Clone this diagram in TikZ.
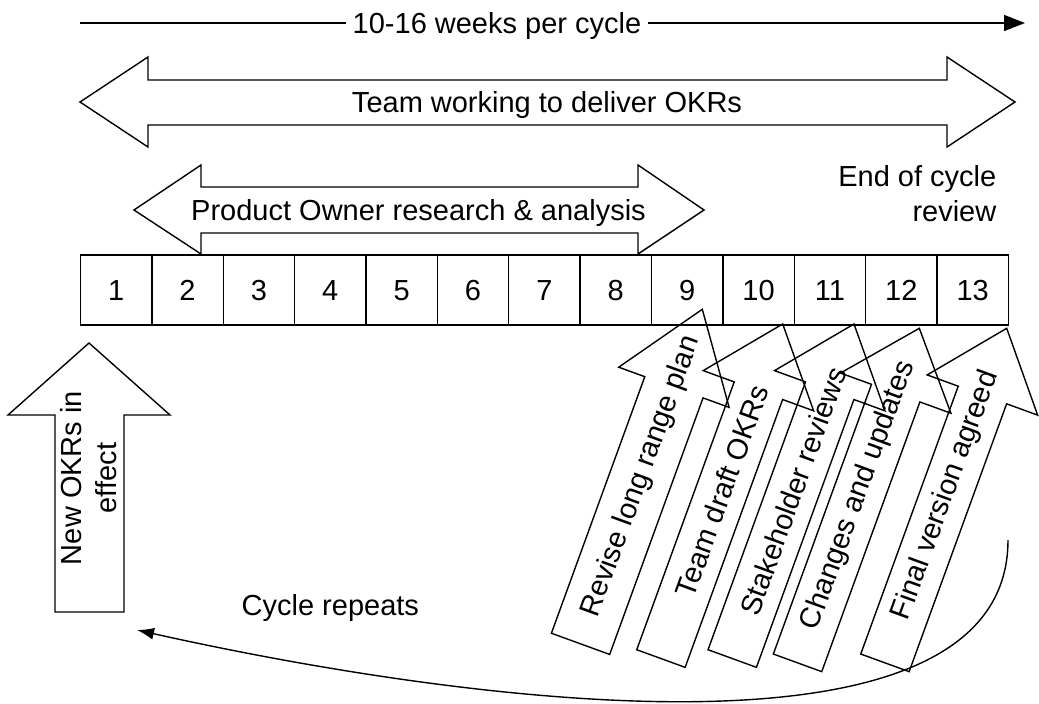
\documentclass[tikz,border=0pt]{standalone}
\usepackage{fontspec}
\setmainfont{Liberation Sans}
\usetikzlibrary{positioning,arrows.meta}

\begin{document}
\begin{tikzpicture}[x=1pt,y=-1pt,
   font=\fontsize{29}{34.8}\selectfont,
   line width=1.4pt,
   >={Latex[length=17pt,width=12pt]},
   wk/.style={draw,minimum width=71.37pt,minimum height=70pt,
              inner sep=0pt,outer sep=0pt,text height=20.8pt,text depth=0pt},
   blk/.style={draw,line join=miter},
   lbl/.style={inner sep=0pt,align=center},
]
\useasboundingbox (0,0) rectangle (1039,704);

% ----- week boxes
\foreach \i in {1,...,13}
  \node[wk] (w\i) at ({80.5+71.37*(\i-0.5)},290) {\i};

% ----- cycle length
\coordinate (t0) at (80,23);
\coordinate (t1) at (1025,23);
\draw[-{Triangle[length=21pt,width=16pt]}] (t0) -- (t1);
\node[fill=white,inner xsep=7pt,inner ysep=0pt,anchor=base] (span) at (497,33.4)
   {10-16 weeks per cycle};

% ----- team working (double arrow)
\draw[blk] (80,102) -- (148,57) -- (148,80) -- (947,80) -- (947,57) -- (1015,102)
   -- (947,147) -- (947,125) -- (148,125) -- (148,147) -- cycle;
\node[lbl,anchor=base] (team) at (547,112.4) {Team working to deliver OKRs};

% ----- product owner (double arrow)
\draw[blk] (134,210) -- (201,165) -- (201,187) -- (638,187) -- (638,165) -- (704,210)
   -- (638,254) -- (638,233) -- (201,233) -- (201,254) -- cycle;
\node[lbl,anchor=base] (po) at (418.5,220.4) {Product Owner research \& analysis};

\node[lbl,align=right,anchor=north east] (eoc) at (997,164.7) {End of cycle\\review};

% ----- new OKRs (up arrow)
\draw[blk] (89,343) -- (170,415) -- (124,415) -- (124,612) -- (55,612) -- (55,415)
   -- (8,415) -- cycle;
\node[lbl,rotate=90] (new) at (89,478) {New OKRs in\\effect};

% ----- end of cycle steps (slanted arrows)
\foreach \tx/\ty/\hl/\bw/\nm/\txt in {
   702.3/309.3/83/62/revise/Revise long range plan,
   782.7/324/71/51.5/draft/Team draft OKRs,
   854/324/71/51.5/stake/Stakeholder reviews,
   919.3/328.3/69/51.5/change/Changes and updates,
   1006.7/328.3/71/51.5/final/Final version agreed}
{
  \begin{scope}[shift={(\tx,\ty)},rotate=70]
    \draw[blk] (0,0) -- (-\hl,58.75) -- (-\hl,\bw/2) -- (-356,\bw/2)
       -- (-356,-\bw/2) -- (-\hl,-\bw/2) -- (-\hl,-58.75) -- cycle;
    \node[lbl,rotate=70] (\nm) at (-178,0) {\txt};
  \end{scope}
}

% ----- back to start
\coordinate (cs) at (1008,540);
\coordinate (ce) at (137,630);
\draw[->] (cs) .. controls (1008,780) and (450,700) .. (ce);
\node[lbl,anchor=base west] (rep) at (241,615) {Cycle repeats};
\end{tikzpicture}
\end{document}
